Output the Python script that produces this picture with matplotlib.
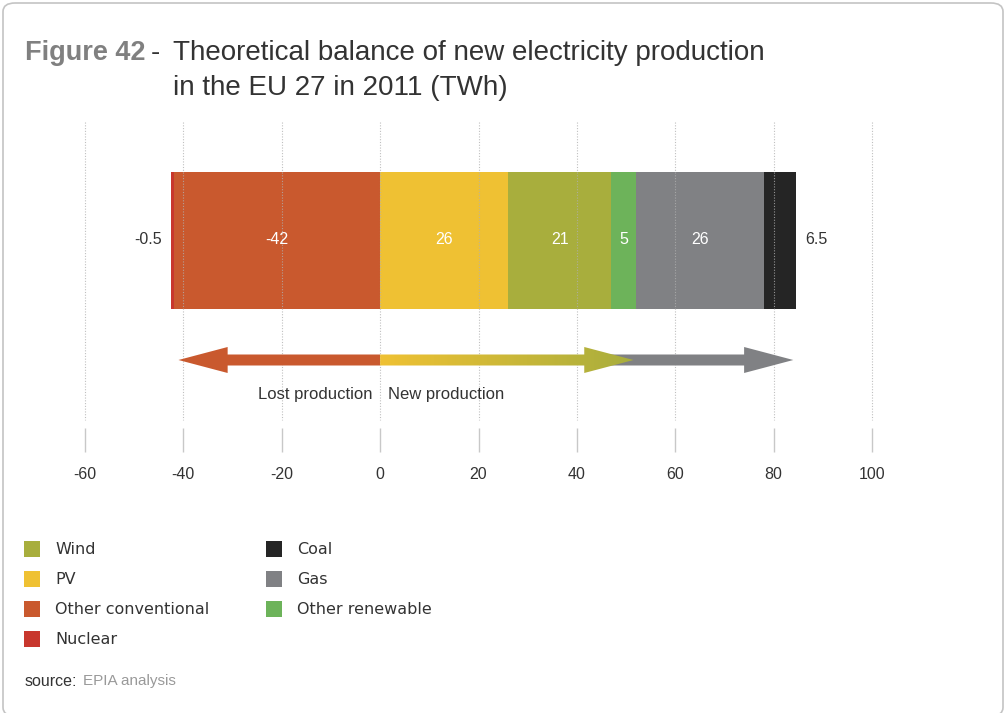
import numpy as np
import matplotlib
matplotlib.use("Agg")
import matplotlib.pyplot as plt
from matplotlib.patches import Polygon, FancyBboxPatch, Rectangle
from matplotlib.colors import LinearSegmentedColormap

plt.rcParams['font.family'] = ['Liberation Sans', 'DejaVu Sans']

# ---------------- data ----------------
categories = ["Nuclear", "Other conventional", "PV", "Wind", "Other renewable", "Gas", "Coal"]
values = [-0.5, -42, 26, 21, 5, 26, 6.5]
labels = ["-0.5", "-42", "26", "21", "5", "26", "6.5"]
colors = ["#C8372D", "#C9592E", "#EFC133", "#A8AE3D", "#6DB35A", "#808184", "#252525"]
ticks = [-60, -40, -20, 0, 20, 40, 60, 80, 100]
legend_col1 = ["Wind", "PV", "Other conventional", "Nuclear"]
legend_col2 = ["Coal", "Gas", "Other renewable"]

W, H = 1005, 713
fig = plt.figure(figsize=(W / 100, H / 100), dpi=100)

def fx(px):
    return px / W

def fy(py):
    return 1 - py / H

# border
fig.patches.append(FancyBboxPatch((fx(3), fy(716)), fx(1000), 713 / H,
                                  boxstyle="round,pad=0,rounding_size=0.012",
                                  transform=fig.transFigure, facecolor="none",
                                  edgecolor="#c4c4c4", lw=1.2, zorder=-5))

# title
fig.text(fx(25), fy(60), "Figure 42", fontsize=19.5, fontweight="bold", color="#808080", va="baseline")
fig.text(fx(151), fy(60), "-", fontsize=20, color="#333333", va="baseline")
fig.text(fx(173), fy(60), "Theoretical balance of new electricity production", fontsize=20,
         color="#333333", va="baseline")
fig.text(fx(173), fy(95), "in the EU 27 in 2011 (TWh)", fontsize=20, color="#333333", va="baseline")

# axes: x-range chosen so that -60 -> px 85, 100 -> px 872
ppu = (872 - 85) / 160.0
xl, xr = -65, 105
ax_left = 85 + (xl + 60) * ppu
ax_w = (xr - xl) * ppu
ax_top, ax_bot = 120, 452
ax = fig.add_axes([fx(ax_left), fy(ax_bot), fx(ax_w), (ax_bot - ax_top) / H])
ax.set_facecolor("none")
for s in ax.spines.values():
    s.set_visible(False)

bar_y, bar_h = 240, 137

# stacked bar
neg_left = 0.0
pos_left = 0.0
lefts = [0] * len(values)
for i in [1, 0]:
    lefts[i] = neg_left + values[i]
    neg_left += values[i]
for i in [2, 3, 4, 5, 6]:
    lefts[i] = pos_left
    pos_left += values[i]
for i, v in enumerate(values):
    ax.barh(bar_y, abs(v), left=lefts[i], height=bar_h, color=colors[i], zorder=2, lw=0)

# labels
for i in [1, 2, 3, 4, 5]:
    ax.text(lefts[i] + abs(values[i]) / 2, bar_y, labels[i], color="white", fontsize=11.5,
            ha="center", va="center", zorder=6)
ax.text(neg_left - 1.8, bar_y, labels[0], color="#333333", fontsize=11.5, ha="right", va="center")
ax.text(pos_left + 2.0, bar_y, labels[6], color="#333333", fontsize=11.5, ha="left", va="center")

# dotted grid lines
ax.vlines(ticks, 122, 420, colors="#b0b0b0", linestyles=(0, (1, 1.5)), lw=0.8, zorder=3, alpha=0.8)

# arrows
ay = 360
sh, hh = 5.5, 13
head_len = 10

def arrow_poly(x0, x1):
    d = 1 if x1 > x0 else -1
    hb = x1 - d * head_len
    return [(x0, ay - sh), (hb, ay - sh), (hb, ay - hh), (x1, ay), (hb, ay + hh),
            (hb, ay + sh), (x0, ay + sh)]

neg_tip = values[1] + 1.0
grad_tip = values[2] + values[3] + values[4] - 0.5
gray_tip = pos_left - 0.5

ax.add_patch(Polygon(arrow_poly(46, gray_tip), closed=True, facecolor=colors[5], lw=0, zorder=4))
ax.add_patch(Polygon(arrow_poly(0, neg_tip), closed=True, facecolor=colors[1], lw=0, zorder=4))
gpoly = Polygon(arrow_poly(0, grad_tip), closed=True, facecolor="none", lw=0, zorder=5)
ax.add_patch(gpoly)
cmap = LinearSegmentedColormap.from_list("g", [colors[2], colors[3]])
grad = np.linspace(0, 1, 256).reshape(1, -1)
im = ax.imshow(grad, cmap=cmap, extent=(0, grad_tip, ay + hh, ay - hh), aspect="auto",
               zorder=5, interpolation="bilinear")
im.set_clip_path(gpoly)

ax.text(-1.6, 394, "Lost production", fontsize=12, color="#333333", ha="right", va="center")
ax.text(1.5, 394, "New production", fontsize=12, color="#333333", ha="left", va="center")

ax.set_xlim(xl, xr)
ax.set_ylim(ax_bot, ax_top)
ax.set_yticks([])
ax.set_xticks(ticks)
ax.set_xticklabels([str(t) for t in ticks])
ax.tick_params(axis="x", direction="in", length=17.5, width=1, color="#c8c8c8",
               labelsize=11.5, labelcolor="#333333", pad=11)

# legend
def leg(x_sq, x_txt, y, name):
    fig.patches.append(Rectangle((fx(x_sq), fy(y + 16)), fx(16), 16 / H,
                                 transform=fig.transFigure, facecolor=colors[categories.index(name)],
                                 lw=0))
    fig.text(fx(x_txt), fy(y + 8), name, fontsize=11.5, family="DejaVu Sans",
             color="#333333", va="center")

for k, name in enumerate(legend_col1):
    leg(24, 55, 541 + 30 * k, name)
for k, name in enumerate(legend_col2):
    leg(266, 297, 541 + 30 * k, name)

fig.text(fx(25), fy(681), "source:", fontsize=11.5, color="#333333", va="center")
fig.text(fx(83), fy(681), "EPIA analysis", fontsize=11, color="#999999", va="center")

fig.savefig("out.png", dpi=100)
